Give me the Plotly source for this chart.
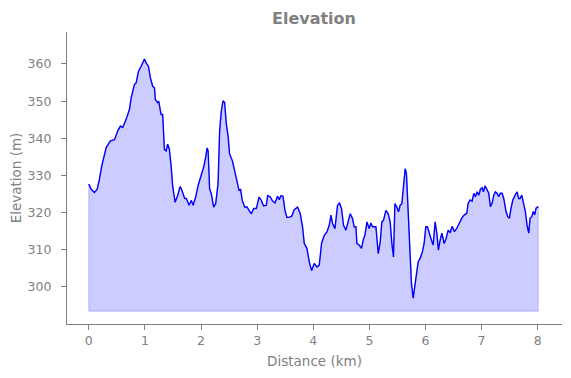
import plotly.graph_objects as go

distance_km = [
    0.000, 0.043, 0.101, 0.150, 0.190, 0.231, 0.310, 0.386, 0.458, 0.516,
    0.564, 0.605, 0.666, 0.725, 0.755, 0.814, 0.844, 0.885, 0.933, 0.992,
    1.022, 1.063, 1.098, 1.139, 1.170, 1.187, 1.228, 1.246, 1.289, 1.317,
    1.348, 1.378, 1.406, 1.437, 1.467, 1.495, 1.538, 1.584, 1.627, 1.650,
    1.709, 1.739, 1.787, 1.828, 1.859, 1.905, 1.948, 2.006, 2.047, 2.083,
    2.108, 2.126, 2.154, 2.184, 2.225, 2.261, 2.304, 2.332, 2.362, 2.393,
    2.421, 2.451, 2.482, 2.510, 2.558, 2.599, 2.642, 2.678, 2.706, 2.736,
    2.777, 2.820, 2.856, 2.897, 2.938, 2.986, 3.034, 3.075, 3.116, 3.164,
    3.187, 3.235, 3.276, 3.318, 3.365, 3.395, 3.425, 3.461, 3.497, 3.532,
    3.573, 3.614, 3.662, 3.721, 3.769, 3.810, 3.840, 3.888, 3.929, 3.970,
    4.018, 4.066, 4.107, 4.148, 4.196, 4.244, 4.285, 4.316, 4.344, 4.387,
    4.433, 4.469, 4.504, 4.540, 4.582, 4.623, 4.659, 4.700, 4.730, 4.761,
    4.778, 4.819, 4.860, 4.896, 4.921, 4.957, 4.997, 5.028, 5.056, 5.117,
    5.158, 5.193, 5.223, 5.252, 5.295, 5.336, 5.371, 5.401, 5.430, 5.455,
    5.490, 5.519, 5.549, 5.579, 5.608, 5.638, 5.661, 5.692, 5.722, 5.750,
    5.781, 5.811, 5.839, 5.870, 5.905, 5.946, 5.976, 6.006, 6.035, 6.065,
    6.106, 6.137, 6.172, 6.203, 6.231, 6.261, 6.292, 6.333, 6.368, 6.404,
    6.440, 6.475, 6.516, 6.559, 6.605, 6.654, 6.694, 6.737, 6.760, 6.796,
    6.831, 6.861, 6.890, 6.920, 6.950, 6.979, 7.009, 7.032, 7.062, 7.093,
    7.128, 7.157, 7.187, 7.217, 7.246, 7.276, 7.306, 7.335, 7.365, 7.395,
    7.436, 7.466, 7.495, 7.525, 7.556, 7.597, 7.632, 7.662, 7.686, 7.716,
    7.744, 7.780, 7.810, 7.840, 7.864, 7.894, 7.922, 7.947, 7.970, 8.010,
]

elevation_m = [
    327.7, 326.3, 325.4, 326.3, 329.0, 332.6, 337.5, 339.3, 339.6, 342.0,
    343.3, 342.9, 345.1, 347.8, 350.9, 354.5, 354.9, 358.0, 359.4, 361.3,
    360.3, 359.4, 356.3, 354.0, 353.6, 350.4, 349.6, 350.0, 346.4, 346.4,
    337.0, 336.6, 338.4, 337.0, 332.6, 327.2, 322.8, 324.6, 327.0, 326.4,
    323.8, 323.8, 322.0, 323.3, 322.0, 324.2, 327.3, 330.0, 332.2, 334.9,
    337.4, 336.7, 326.4, 325.1, 321.5, 322.4, 327.8, 342.0, 347.4, 350.1,
    349.6, 343.9, 340.7, 335.8, 334.0, 331.3, 328.7, 326.0, 326.2, 323.3,
    321.5, 321.5, 320.6, 319.7, 321.1, 321.1, 324.2, 323.3, 321.8, 322.0,
    324.6, 324.2, 323.1, 322.6, 324.4, 323.5, 324.6, 324.4, 320.6, 318.7,
    318.8, 319.0, 320.8, 321.5, 319.7, 316.2, 311.7, 310.4, 306.8, 304.4,
    306.3, 305.4, 305.9, 311.7, 313.9, 314.8, 316.6, 319.3, 317.1, 315.7,
    322.0, 322.6, 321.1, 316.6, 315.3, 317.9, 319.7, 318.4, 316.2, 316.2,
    311.7, 311.3, 310.4, 313.0, 313.9, 317.5, 315.7, 317.2, 316.2, 316.2,
    309.0, 312.1, 317.5, 317.9, 320.6, 319.7, 317.5, 311.7, 308.1, 322.4,
    321.5, 320.2, 322.0, 322.4, 326.9, 331.8, 330.5, 320.6, 309.0, 301.0,
    297.0, 300.1, 303.2, 306.8, 307.7, 309.5, 311.7, 316.2, 316.2, 314.4,
    312.6, 311.3, 317.5, 314.4, 309.9, 312.6, 314.5, 311.7, 313.0, 315.3,
    314.6, 316.3, 314.9, 315.8, 317.1, 318.7, 319.4, 319.8, 322.5, 323.4,
    323.1, 325.2, 324.3, 325.6, 324.7, 326.3, 326.7, 325.6, 327.2, 326.1,
    325.2, 321.6, 322.5, 324.7, 325.6, 325.2, 324.3, 325.2, 325.2, 323.8,
    320.3, 318.9, 318.5, 321.2, 323.4, 324.7, 325.6, 323.8, 323.8, 324.7,
    323.0, 320.3, 316.7, 314.5, 318.5, 318.9, 320.3, 319.4, 321.2, 321.6,
]

BASELINE = 293.5
x_ticks = [0, 1, 2, 3, 4, 5, 6, 7, 8]
y_ticks = [300, 310, 320, 330, 340, 350, 360]

GREY = "#808080"
FONT = "DejaVu Sans"

fill_x = [distance_km[0]] + distance_km + [distance_km[-1], distance_km[0]]
fill_y = [BASELINE] + elevation_m + [BASELINE, BASELINE]

fig = go.Figure()
fig.add_trace(go.Scatter(
    x=fill_x, y=fill_y, mode="lines", fill="toself",
    fillcolor="#ccccff", line=dict(color="rgba(0,0,255,0.2)", width=1),
    hoverinfo="skip", showlegend=False,
))
fig.add_trace(go.Scatter(
    x=distance_km, y=elevation_m, mode="lines",
    line=dict(color="#0000ff", width=1.4), showlegend=False,
))

fig.update_layout(
    width=563, height=370,
    margin=dict(l=58.5, r=9, t=24, b=53.5),
    paper_bgcolor="white", plot_bgcolor="white",
    font=dict(family=FONT, color=GREY, size=12),
    title=dict(text="<b>Elevation</b>", x=0.5435, xanchor="center",
               y=0.973, yanchor="middle",
               font=dict(family=FONT, size=16, color=GREY)),
    xaxis=dict(
        range=[-0.388, 8.433], tickvals=x_ticks, showgrid=False, zeroline=False,
        showline=True, linecolor=GREY, linewidth=1.2, automargin=False,
        ticks="outside", ticklen=5, tickcolor=GREY, tickwidth=1,
        tickfont=dict(size=12.5, color=GREY),
        title=dict(text="Distance (km)", font=dict(size=13.5, color=GREY), standoff=9),
    ),
    yaxis=dict(
        range=[290.04, 368.6], tickvals=y_ticks, showgrid=False, zeroline=False,
        showline=True, linecolor=GREY, linewidth=1.2, automargin=False,
        ticks="outside", ticklen=5, tickcolor=GREY, tickwidth=1,
        tickfont=dict(size=12.5, color=GREY), ticklabelstandoff=7,
        title=dict(text="Elevation (m)", font=dict(size=13.5, color=GREY), standoff=6),
    ),
)

fig.write_html("out.html")
